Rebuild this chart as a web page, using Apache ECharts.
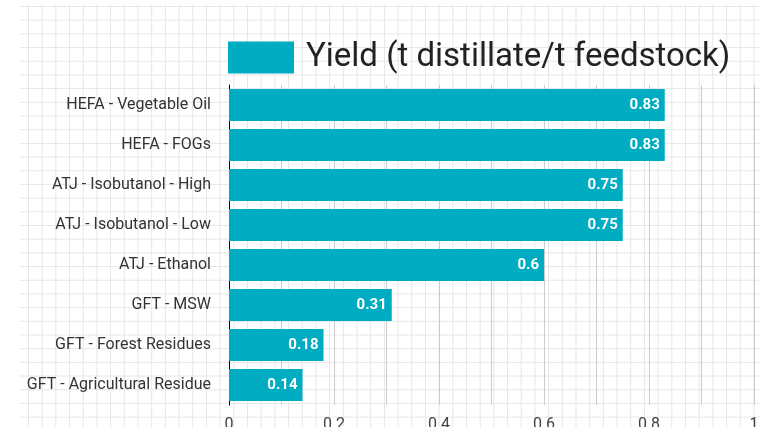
<!DOCTYPE html>
<html>
<head>
<meta charset="utf-8">
<script src="https://cdn.jsdelivr.net/npm/echarts@6/dist/echarts.min.js"></script>
<style>
html,body{margin:0;padding:0;background:#fff;}
#wrap{position:relative;width:761px;height:427px;overflow:hidden;}
#paper{position:absolute;left:20px;top:5px;right:0;bottom:0;
 background-image:
  linear-gradient(to right, #e6e6e6 1px, transparent 1px),
  linear-gradient(to bottom, #e6e6e6 1px, transparent 1px);
 background-size:13.7px 13.7px;
 background-position:8px 1px;}
#chart{position:absolute;left:0;top:0;width:761px;height:427px;}
</style>
</head>
<body>
<div id="wrap"><div id="paper"></div><div id="chart"></div></div>
<script>
const categories = [
  'HEFA - Vegetable Oil',
  'HEFA - FOGs',
  'ATJ - Isobutanol - High',
  'ATJ - Isobutanol - Low',
  'ATJ - Ethanol',
  'GFT - MSW',
  'GFT - Forest Residues',
  'GFT - Agricultural Residue'
];
const yieldValues = [0.83, 0.83, 0.75, 0.75, 0.6, 0.31, 0.18, 0.14];
const seriesName = 'Yield (t distillate/t feedstock)';

const chart = echarts.init(document.getElementById('chart'), null, {renderer:'canvas'});
chart.setOption({
  backgroundColor: 'transparent',
  textStyle: {fontFamily: 'Roboto'},
  legend: {
    left: 228, top: 41, padding: 0,
    icon: 'rect',
    itemWidth: 66, itemHeight: 32,
    textStyle: {fontSize: 33, color: '#222', fontFamily: 'Roboto', padding: [0,0,0,7]},
    data: [seriesName]
  },
  grid: {left: 229, right: 7, top: 85, bottom: 22, containLabel: false, outerBoundsMode: 'none'},
  xAxis: {
    type: 'value', min: 0, max: 1, interval: 0.1,
    axisLine: {show: false}, axisTick: {show: false},
    splitLine: {show: true, lineStyle: {color: '#cccccc', width: 1}},
    axisLabel: {
      fontSize: 16, color: '#444', margin: 12,
      formatter: function (v) {
        const r = Math.round(v * 10);
        return r % 2 === 0 ? String(r / 10) : '';
      }
    }
  },
  yAxis: {
    type: 'category', data: categories, inverse: true,
    axisLine: {show: true, lineStyle: {color: '#000', width: 1}},
    axisTick: {show: false},
    axisLabel: {fontSize: 16, color: '#333', margin: 18}
  },
  series: [{
    name: seriesName, type: 'bar', data: yieldValues,
    barCategoryGap: '20%',
    itemStyle: {color: '#00ACC1'},
    label: {show: true, position: 'insideRight', distance: 5, color: '#fff',
      fontWeight: 'bold', fontSize: 15, fontFamily: 'Roboto'}
  }]
});
</script>
</body>
</html>
